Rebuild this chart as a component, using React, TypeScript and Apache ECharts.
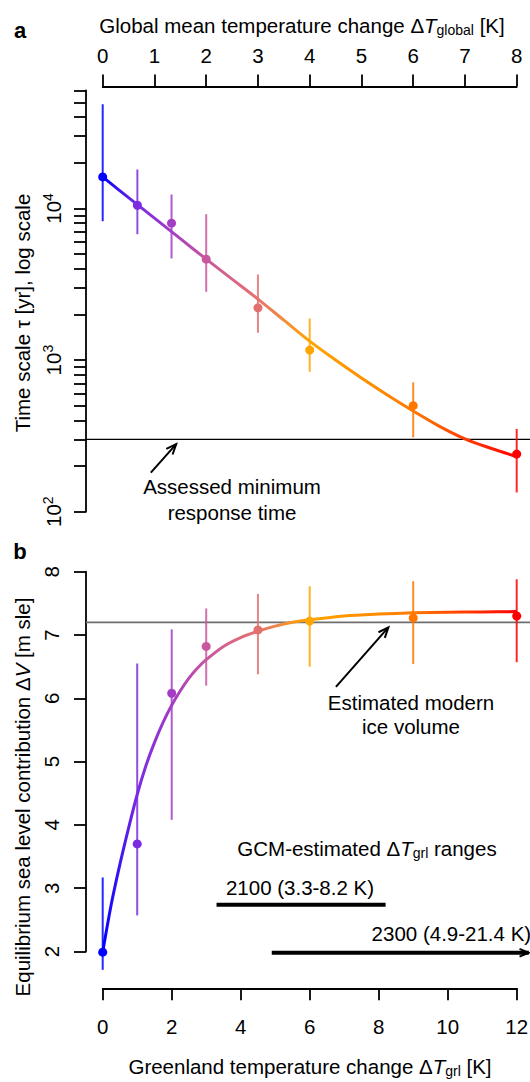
import React, { useEffect, useRef } from "react";
import * as echarts from "echarts";

// ---------- Panel a: response time scale vs global warming ----------
const tGlobal = [0, 0.67, 1.33, 2, 3, 4, 6, 8];
const tauMid = [16150, 10500, 8000, 4630, 2210, 1164, 500, 240];
const tauLow = [8240, 6770, 4680, 2820, 1514, 837, 309, 134];
const tauHigh = [48700, 18070, 12370, 9170, 3670, 1883, 713, 351];
const fitTGlobal = [0, 0.5, 1, 1.5, 2, 2.5, 3, 3.5, 4, 4.5, 5, 5.5, 6, 6.5, 7, 7.5, 8];
const fitTau = [16150, 11780, 8630, 6320, 4630, 3420, 2525, 1835, 1334, 1000, 761, 588, 461, 367, 302, 262, 231];
const minResponseTime = 300;
const tGlobalTicks = [0, 1, 2, 3, 4, 5, 6, 7, 8];
const tauLabelTicks = [100, 1000, 10000];
const tauTicks = [
  100, 200, 300, 400, 500, 600, 700, 800, 900,
  1000, 2000, 3000, 4000, 5000, 6000, 7000, 8000, 9000,
  10000, 20000, 30000, 40000, 50000, 60000,
];

// ---------- Panel b: equilibrium sea level vs Greenland warming ----------
const tGrl = [0, 1, 2, 3, 4.5, 6, 9, 12];
const dvMid = [1.99, 3.7, 6.08, 6.82, 7.08, 7.22, 7.27, 7.3];
const dvLow = [1.71, 2.57, 4.08, 6.2, 6.38, 6.5, 6.54, 6.57];
const dvHigh = [3.17, 6.55, 7.09, 7.42, 7.65, 7.77, 7.85, 7.88];
const fitTGrl = [0, 0.25, 0.5, 0.75, 1, 1.25, 1.5, 1.75, 2, 2.25, 2.5, 2.75, 3, 3.5, 4, 4.5, 5, 5.5, 6, 7, 8, 9, 10, 11, 12];
const fitDv = [1.99, 2.75, 3.38, 3.95, 4.48, 4.93, 5.3, 5.62, 5.89, 6.12, 6.32, 6.48, 6.61, 6.82, 6.96, 7.06, 7.14, 7.2, 7.24, 7.3, 7.33, 7.35, 7.36, 7.365, 7.37];
const modernIceVolume = 7.2;
const range2100 = [3.3, 8.2];
const range2300 = [4.9, 21.4];
const tGrlTicks = [0, 2, 4, 6, 8, 10, 12];
const dvTicks = [2, 3, 4, 5, 6, 7, 8];

const pointColors = ["#0000FF", "#7B2BE2", "#A23DC4", "#C8579F", "#E2706F", "#FFA500", "#FF7700", "#FF0000"];

// annotation anchors (data coordinates)
const arrowA = { from: [0.93, 181], to: [1.42, 279] };
const arrowB = { from: [6.76, 6.18], to: [8.28, 7.12] };
const bar2100Level = 2.74;
const arrow2300Level = 1.98;
const arrow2300VisibleEnd = 12.35;

const FONT = '"Liberation Sans", Arial, Helvetica, sans-serif';
const FS = 20.5;
const AXIS_GAP = 16.7;

function gradient() {
  return new echarts.graphic.LinearGradient(0, 0, 1, 0, [
    { offset: 0, color: "#0000FF" },
    { offset: 0.083, color: "#7B2BE2" },
    { offset: 0.167, color: "#A23DC4" },
    { offset: 0.25, color: "#C8579F" },
    { offset: 0.375, color: "#E5736E" },
    { offset: 0.5, color: "#FFA500" },
    { offset: 0.75, color: "#FF7A00" },
    { offset: 1, color: "#FF0000" },
  ]);
}

function arrowShape(p1: number[], p2: number[], color: string, lw: number, head: number, headLw: number) {
  const dx = p2[0] - p1[0];
  const dy = p2[1] - p1[1];
  const len = Math.hypot(dx, dy);
  const ux = dx / len;
  const uy = dy / len;
  const a = Math.PI / 8;
  const c = Math.cos(a);
  const s = Math.sin(a);
  const h1 = [p2[0] - head * (ux * c - uy * s), p2[1] - head * (uy * c + ux * s)];
  const h2 = [p2[0] - head * (ux * c + uy * s), p2[1] - head * (uy * c - ux * s)];
  return {
    type: "group",
    children: [
      { type: "line", shape: { x1: p1[0], y1: p1[1], x2: p2[0], y2: p2[1] }, style: { stroke: color, lineWidth: lw } },
      { type: "polyline", shape: { points: [h1, p2, h2] }, style: { stroke: color, lineWidth: headLw, fill: null } },
    ],
  };
}

const axisLineStyle = { color: "#000", width: 1.8 };

const richBase = {
  n: { fontSize: FS, fontFamily: FONT, color: "#000", lineHeight: 24 },
  i: { fontSize: FS, fontFamily: FONT, color: "#000", fontStyle: "italic", lineHeight: 24 },
  s: { fontSize: 14, fontFamily: FONT, color: "#000", lineHeight: 14, verticalAlign: "bottom" },
};

function textEl(x: number, y: number, text: string, extra: any = {}) {
  return {
    type: "text",
    x,
    y,
    rotation: extra.rotation || 0,
    style: {
      text,
      rich: richBase,
      fontSize: extra.fontSize || FS,
      fontFamily: FONT,
      fontWeight: extra.fontWeight || "normal",
      fill: "#000",
      align: extra.align || "center",
      verticalAlign: "middle",
    },
    z: 100,
  };
}

export default function App() {
  const ref = useRef<HTMLDivElement>(null);

  useEffect(() => {
    if (!ref.current) return;
    const chart = echarts.init(ref.current, null, { renderer: "svg" });

    const errA = tGlobal.map((t, i) => [t, tauLow[i], tauHigh[i]]);
    const errB = tGrl.map((t, i) => [t, dvLow[i], dvHigh[i]]);

    const errRender = (params: any, api: any) => {
      const x = api.value(0);
      const p1 = api.coord([x, api.value(1)]);
      const p2 = api.coord([x, api.value(2)]);
      return {
        type: "line",
        shape: { x1: p1[0], y1: p1[1], x2: p2[0], y2: p2[1] },
        style: { stroke: pointColors[params.dataIndex], lineWidth: 2, opacity: 0.85 },
      };
    };

    const hLineRender = (color: string, width: number) => (params: any, api: any) => {
      const p = api.coord([0, api.value(1)]);
      const cs = params.coordSys;
      return {
        type: "line",
        shape: { x1: cs.x - AXIS_GAP, y1: p[1], x2: api.getWidth(), y2: p[1] },
        style: { stroke: color, lineWidth: width },
      };
    };

    const labelStyle = { fontSize: FS, color: "#000", fontFamily: FONT };

    const option: any = {
      animation: false,
      backgroundColor: "#ffffff",
      textStyle: { fontFamily: FONT },
      grid: [
        { left: 102.7, right: 13.3, top: 90.5, height: 421.2, outerBoundsMode: "none", containLabel: false },
        { left: 102.7, right: 13.3, top: 571.7, height: 379.8, outerBoundsMode: "none", containLabel: false },
      ],
      xAxis: [
        {
          gridIndex: 0,
          type: "value",
          position: "top",
          min: 0,
          max: 8,
          interval: 1,
          offset: 4,
          axisLine: { show: true, onZero: false, lineStyle: axisLineStyle },
          axisTick: { show: true, length: 12, customValues: tGlobalTicks, lineStyle: axisLineStyle },
          axisLabel: { show: true, margin: 21, customValues: tGlobalTicks, showMinLabel: true, showMaxLabel: true, ...labelStyle },
          splitLine: { show: false },
        },
        {
          gridIndex: 1,
          type: "value",
          position: "bottom",
          min: 0,
          max: 12,
          interval: 2,
          offset: 36.8,
          axisLine: { show: true, onZero: false, lineStyle: axisLineStyle },
          axisTick: { show: true, length: 12, customValues: tGrlTicks, lineStyle: axisLineStyle },
          axisLabel: { show: true, margin: 28, customValues: tGrlTicks, showMinLabel: true, showMaxLabel: true, ...labelStyle },
          splitLine: { show: false },
        },
      ],
      yAxis: [
        {
          gridIndex: 0,
          type: "log",
          logBase: 10,
          min: 100,
          max: 60000,
          offset: AXIS_GAP,
          axisLine: { show: true, onZero: false, lineStyle: axisLineStyle },
          axisTick: { show: true, length: 12, customValues: tauTicks, lineStyle: axisLineStyle },
          axisLabel: {
            show: true,
            margin: 21,
            rotate: 90,
            customValues: tauLabelTicks,
            showMinLabel: true,
            showMaxLabel: true,
            formatter: (v: number) => "{b|10}{p|" + Math.round(Math.log10(v)) + "}",
            rich: {
              b: { fontSize: FS, fontFamily: FONT, color: "#000", lineHeight: 24 },
              p: { fontSize: 14, fontFamily: FONT, color: "#000", lineHeight: 14, verticalAlign: "top" },
            },
            ...labelStyle,
          },
          splitLine: { show: false },
        },
        {
          gridIndex: 1,
          type: "value",
          min: 2,
          max: 8,
          interval: 1,
          offset: AXIS_GAP,
          axisLine: { show: true, onZero: false, lineStyle: axisLineStyle },
          axisTick: { show: true, length: 12, customValues: dvTicks, lineStyle: axisLineStyle },
          axisLabel: { show: true, margin: 24, rotate: 90, customValues: dvTicks, showMinLabel: true, showMaxLabel: true, ...labelStyle },
          splitLine: { show: false },
        },
      ],
      series: [
        // ---- panel a ----
        {
          type: "custom",
          xAxisIndex: 0,
          yAxisIndex: 0,
          clip: false,
          silent: true,
          z: 1,
          encode: { x: 0, y: 1 },
          data: [[0, minResponseTime]],
          renderItem: hLineRender("#000", 1.2),
        },
        {
          type: "line",
          xAxisIndex: 0,
          yAxisIndex: 0,
          data: fitTGlobal.map((t, i) => [t, fitTau[i]]),
          smooth: 0.35,
          symbol: "none",
          showSymbol: false,
          clip: false,
          silent: true,
          z: 3,
          lineStyle: { width: 3, color: gradient() },
        },
        {
          type: "custom",
          xAxisIndex: 0,
          yAxisIndex: 0,
          clip: false,
          silent: true,
          z: 4,
          encode: { x: 0, y: [1, 2] },
          data: errA,
          renderItem: errRender,
        },
        {
          type: "scatter",
          xAxisIndex: 0,
          yAxisIndex: 0,
          clip: false,
          silent: true,
          z: 5,
          symbolSize: 9,
          data: tGlobal.map((t, i) => ({ value: [t, tauMid[i]], itemStyle: { color: pointColors[i], opacity: 1 } })),
        },
        {
          type: "custom",
          xAxisIndex: 0,
          yAxisIndex: 0,
          clip: false,
          silent: true,
          z: 6,
          encode: { x: 0, y: 1 },
          data: [[arrowA.from[0], arrowA.from[1]]],
          renderItem: (params: any, api: any) =>
            arrowShape(api.coord(arrowA.from), api.coord(arrowA.to), "#000", 2, 11, 2),
        },
        // ---- panel b ----
        {
          type: "custom",
          xAxisIndex: 1,
          yAxisIndex: 1,
          clip: false,
          silent: true,
          z: 1,
          encode: { x: 0, y: 1 },
          data: [[0, modernIceVolume]],
          renderItem: hLineRender("#6e6e6e", 1.6),
        },
        {
          type: "line",
          xAxisIndex: 1,
          yAxisIndex: 1,
          data: fitTGrl.map((t, i) => [t, fitDv[i]]),
          smooth: 0.3,
          symbol: "none",
          showSymbol: false,
          clip: false,
          silent: true,
          z: 3,
          lineStyle: { width: 3, color: gradient() },
        },
        {
          type: "custom",
          xAxisIndex: 1,
          yAxisIndex: 1,
          clip: false,
          silent: true,
          z: 4,
          encode: { x: 0, y: [1, 2] },
          data: errB,
          renderItem: errRender,
        },
        {
          type: "scatter",
          xAxisIndex: 1,
          yAxisIndex: 1,
          clip: false,
          silent: true,
          z: 5,
          symbolSize: 9,
          data: tGrl.map((t, i) => ({ value: [t, dvMid[i]], itemStyle: { color: pointColors[i], opacity: 1 } })),
        },
        {
          type: "custom",
          xAxisIndex: 1,
          yAxisIndex: 1,
          clip: false,
          silent: true,
          z: 6,
          encode: { x: 0, y: 1 },
          data: [[arrowB.from[0], arrowB.from[1]]],
          renderItem: (params: any, api: any) =>
            arrowShape(api.coord(arrowB.from), api.coord(arrowB.to), "#000", 2, 11, 2),
        },
        {
          type: "custom",
          xAxisIndex: 1,
          yAxisIndex: 1,
          clip: false,
          silent: true,
          z: 6,
          encode: { x: 0, y: 1 },
          data: [[range2100[0], bar2100Level]],
          renderItem: (params: any, api: any) => {
            const p1 = api.coord([range2100[0], bar2100Level]);
            const p2 = api.coord([range2100[1], bar2100Level]);
            return {
              type: "line",
              shape: { x1: p1[0], y1: p1[1], x2: p2[0], y2: p2[1] },
              style: { stroke: "#000", lineWidth: 4, lineCap: "butt" },
            };
          },
        },
        {
          type: "custom",
          xAxisIndex: 1,
          yAxisIndex: 1,
          clip: false,
          silent: true,
          z: 6,
          encode: { x: 0, y: 1 },
          data: [[range2300[0], arrow2300Level]],
          renderItem: (params: any, api: any) => {
            const p1 = api.coord([range2300[0], arrow2300Level]);
            const p2 = api.coord([Math.min(range2300[1], arrow2300VisibleEnd), arrow2300Level]);
            return arrowShape(p1, p2, "#000", 4, 10, 2);
          },
        },
      ],
      graphic: [
        textEl(20, 30, "a", { fontWeight: "bold", fontSize: 22 }),
        textEl(20, 551, "b", { fontWeight: "bold", fontSize: 22 }),
        textEl(302, 25, "{n|Global mean temperature change Δ}{i|T}{s|global}{n| [K]}"),
        textEl(22, 313, "{n|Time scale τ [yr], log scale}", { rotation: Math.PI / 2 }),
        textEl(232, 486, "{n|Assessed minimum}"),
        textEl(232, 512, "{n|response time}"),
        textEl(411, 702, "{n|Estimated modern}"),
        textEl(411, 726, "{n|ice volume}"),
        textEl(367, 848, "{n|GCM-estimated Δ}{i|T}{s|grl}{n| ranges}"),
        textEl(300, 887, "{n|2100 (3.3-8.2 K)}"),
        textEl(371.6, 933, "{n|2300 (4.9-21.4 K)}", { align: "left" }),
        textEl(22, 797, "{n|Equilibrium sea level contribution Δ}{i|V}{n| [m sle]}", { rotation: Math.PI / 2 }),
        textEl(310, 1066, "{n|Greenland temperature change Δ}{i|T}{s|grl}{n| [K]}"),
      ],
    };

    chart.setOption(option);
    return () => {
      chart.dispose();
    };
  }, []);

  return (
    <div
      ref={ref}
      style={{ position: "absolute", left: 0, top: 0, width: 530, height: 1082, background: "#fff" }}
    />
  );
}
